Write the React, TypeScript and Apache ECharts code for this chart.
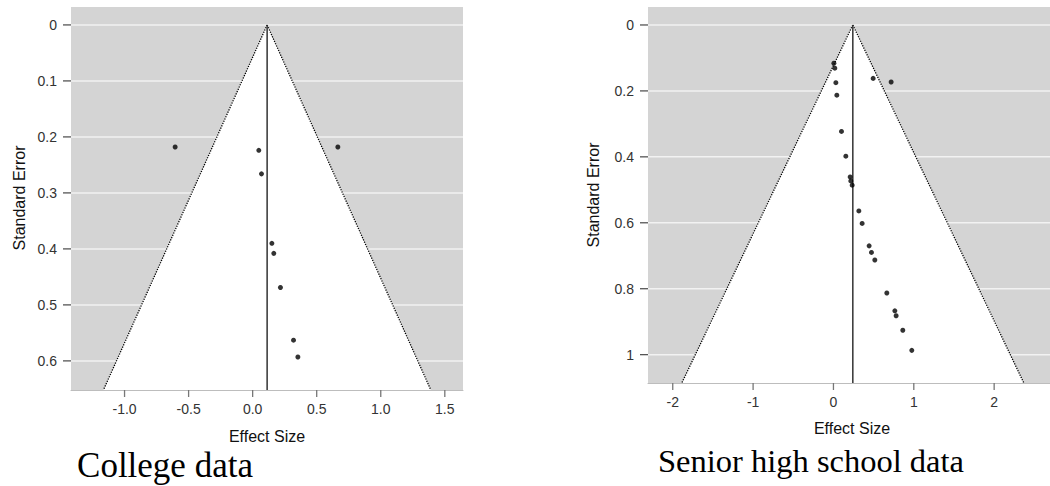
import React, { useEffect, useRef } from "react";
import * as echarts from "echarts";

// ---- College data ----
const collegeEffect = [-0.605, 0.048, 0.069, 0.665, 0.15, 0.165, 0.217, 0.319, 0.353];
const collegeSE = [0.218, 0.224, 0.266, 0.218, 0.39, 0.408, 0.469, 0.563, 0.593];
const collegeMean = 0.113;
const collegeXTicks = [-1, -0.5, 0, 0.5, 1, 1.5];
const collegeYTicks = [0, 0.1, 0.2, 0.3, 0.4, 0.5, 0.6];
const collegeXRange = [-1.418, 1.642];
const collegeYRange = [-0.032, 0.652];

// ---- Senior high school data ----
const seniorEffect = [
  0.005, 0.017, 0.03, 0.042, 0.494, 0.718, 0.1, 0.154, 0.208, 0.216, 0.233,
  0.316, 0.357, 0.444, 0.473, 0.515, 0.664, 0.764, 0.78, 0.863, 0.975,
];
const seniorSE = [
  0.116, 0.131, 0.175, 0.213, 0.162, 0.173, 0.323, 0.398, 0.461, 0.473, 0.486,
  0.564, 0.602, 0.67, 0.69, 0.713, 0.813, 0.867, 0.882, 0.926, 0.987,
];
const seniorMean = 0.241;
const seniorXTicks = [-2, -1, 0, 1, 2];
const seniorYTicks = [0, 0.2, 0.4, 0.6, 0.8, 1];
const seniorXRange = [-2.308, 2.695];
const seniorYRange = [-0.0545, 1.086];

const captions = ["College data", "Senior high school data"];
const xTitle = "Effect Size";
const yTitle = "Standard Error";

const SANS = "Liberation Sans, Arial, sans-serif";
const SERIF = "Liberation Serif, Times New Roman, serif";

function gridLinesItem(params: any, api: any) {
  const y = api.coord([0, api.value(1)])[1];
  const cs = params.coordSys;
  return {
    type: "line",
    shape: { x1: cs.x, y1: y, x2: cs.x + cs.width, y2: y },
    style: { stroke: "#f2f2f2", lineWidth: 1.5 },
  };
}

// tick mark left of the panel
function yTickItem(params: any, api: any) {
  const y = api.coord([0, api.value(1)])[1];
  const cs = params.coordSys;
  return {
    type: "rect",
    shape: { x: cs.x - 8, y: y - 0.65, width: 8, height: 1.3 },
    style: { fill: "#555" },
  };
}

// tick marks below the x axis
function xTickItem(params: any, api: any) {
  const x = api.coord([api.value(0), 0])[0];
  const cs = params.coordSys;
  const yb = cs.y + cs.height;
  return {
    type: "rect",
    shape: { x: x - 0.65, y: yb, width: 1.3, height: 7 },
    style: { fill: "#777" },
  };
}

function funnelItem(params: any, api: any) {
  const mean = api.value(0);
  const seMax = api.value(1);
  const apex = api.coord([mean, 0]);
  const bl = api.coord([mean - 1.96 * seMax, seMax]);
  const br = api.coord([mean + 1.96 * seMax, seMax]);
  const bottom = api.coord([mean, seMax]);
  const dotted = { stroke: "#000", lineWidth: 1.3, lineDash: [1.2, 1.3] };
  return {
    type: "group",
    children: [
      { type: "polygon", shape: { points: [apex, bl, br] }, style: { fill: "#ffffff" } },
      { type: "line", shape: { x1: apex[0], y1: apex[1], x2: bl[0], y2: bl[1] }, style: dotted },
      { type: "line", shape: { x1: apex[0], y1: apex[1], x2: br[0], y2: br[1] }, style: dotted },
      {
        type: "line",
        shape: { x1: apex[0], y1: apex[1], x2: bottom[0], y2: bottom[1] },
        style: { stroke: "#333", lineWidth: 1.5 },
      },
    ],
  };
}

function xAxisDef(idx: number, range: number[], ticks: number[], fmt: (v: number) => string) {
  return {
    type: "value",
    gridIndex: idx,
    position: "bottom",
    min: range[0],
    max: range[1],
    axisLine: { show: true, onZero: false, lineStyle: { color: "#bdbdbd", width: 1 } },
    axisTick: { show: false },
    axisLabel: {
      customValues: ticks,
      formatter: (v: number) => fmt(v),
      margin: 12,
      fontSize: 14,
      color: "#333",
      fontFamily: SANS,
    },
    splitLine: { show: false },
  };
}

function yAxisDef(idx: number, range: number[], ticks: number[]) {
  return {
    type: "value",
    gridIndex: idx,
    position: "left",
    inverse: true,
    min: range[0],
    max: range[1],
    axisLine: { show: false, onZero: false },
    axisTick: { show: false },
    axisLabel: {
      customValues: ticks,
      formatter: (v: number) => String(Math.round(v * 10) / 10),
      margin: 14,
      fontSize: 14,
      color: "#333",
      fontFamily: SANS,
    },
    splitLine: { show: false },
  };
}

export default function App() {
  const ref = useRef<HTMLDivElement>(null);

  useEffect(() => {
    document.body.style.margin = "0";
    if (!ref.current) return;
    const chart = echarts.init(ref.current, null, { renderer: "svg" });

    const customSeries = (ax: number, fn: any, data: number[][], z: number) => ({
      type: "custom",
      xAxisIndex: ax,
      yAxisIndex: ax,
      z,
      silent: true,
      clip: false,
      renderItem: fn,
      data,
    });

    const option: any = {
      animation: false,
      backgroundColor: "#ffffff",
      grid: [
        { left: 71, top: 7, width: 392, height: 383, show: true, backgroundColor: "#d4d4d4", borderWidth: 0 },
        { left: 648, top: 7, width: 402, height: 376, show: true, backgroundColor: "#d4d4d4", borderWidth: 0 },
      ],
      xAxis: [
        xAxisDef(0, collegeXRange, collegeXTicks, (v) => v.toFixed(1)),
        xAxisDef(1, seniorXRange, seniorXTicks, (v) => String(v)),
      ],
      yAxis: [yAxisDef(0, collegeYRange, collegeYTicks), yAxisDef(1, seniorYRange, seniorYTicks)],
      series: [
        customSeries(0, gridLinesItem, collegeYTicks.map((v) => [0, v]), 2),
        customSeries(1, gridLinesItem, seniorYTicks.map((v) => [0, v]), 2),
        customSeries(0, yTickItem, collegeYTicks.map((v) => [0, v]), 6),
        customSeries(1, yTickItem, seniorYTicks.map((v) => [0, v]), 6),
        customSeries(0, xTickItem, collegeXTicks.map((v) => [v, 0]), 6),
        customSeries(1, xTickItem, seniorXTicks.map((v) => [v, 0]), 6),
        customSeries(0, funnelItem, [[collegeMean, collegeYRange[1]]], 3),
        customSeries(1, funnelItem, [[seniorMean, seniorYRange[1]]], 3),
        {
          type: "scatter",
          xAxisIndex: 0,
          yAxisIndex: 0,
          z: 5,
          symbolSize: 5,
          itemStyle: { color: "#000" },
          data: collegeEffect.map((x, i) => [x, collegeSE[i]]),
        },
        {
          type: "scatter",
          xAxisIndex: 1,
          yAxisIndex: 1,
          z: 5,
          symbolSize: 5,
          itemStyle: { color: "#000" },
          data: seniorEffect.map((x, i) => [x, seniorSE[i]]),
        },
      ],
      graphic: [
        {
          type: "text",
          x: 19,
          y: 198,
          rotation: Math.PI / 2,
          style: { text: yTitle, fontSize: 16, fontFamily: SANS, fill: "#111", align: "center", verticalAlign: "middle" },
        },
        {
          type: "text",
          x: 593,
          y: 195,
          rotation: Math.PI / 2,
          style: { text: yTitle, fontSize: 16, fontFamily: SANS, fill: "#111", align: "center", verticalAlign: "middle" },
        },
        {
          type: "text",
          x: 267,
          y: 436,
          style: { text: xTitle, fontSize: 16, fontFamily: SANS, fill: "#111", align: "center", verticalAlign: "middle" },
        },
        {
          type: "text",
          x: 852,
          y: 428,
          style: { text: xTitle, fontSize: 16, fontFamily: SANS, fill: "#111", align: "center", verticalAlign: "middle" },
        },
        {
          type: "text",
          x: 165,
          y: 465,
          style: { text: captions[0], fontSize: 35, fontFamily: SERIF, fill: "#000", align: "center", verticalAlign: "middle" },
        },
        {
          type: "text",
          x: 811,
          y: 461,
          style: { text: captions[1], fontSize: 32.5, fontFamily: SERIF, fill: "#000", align: "center", verticalAlign: "middle" },
        },
      ],
    };

    chart.setOption(option);
    return () => chart.dispose();
  }, []);

  return <div ref={ref} style={{ width: 1050, height: 486 }} />;
}
